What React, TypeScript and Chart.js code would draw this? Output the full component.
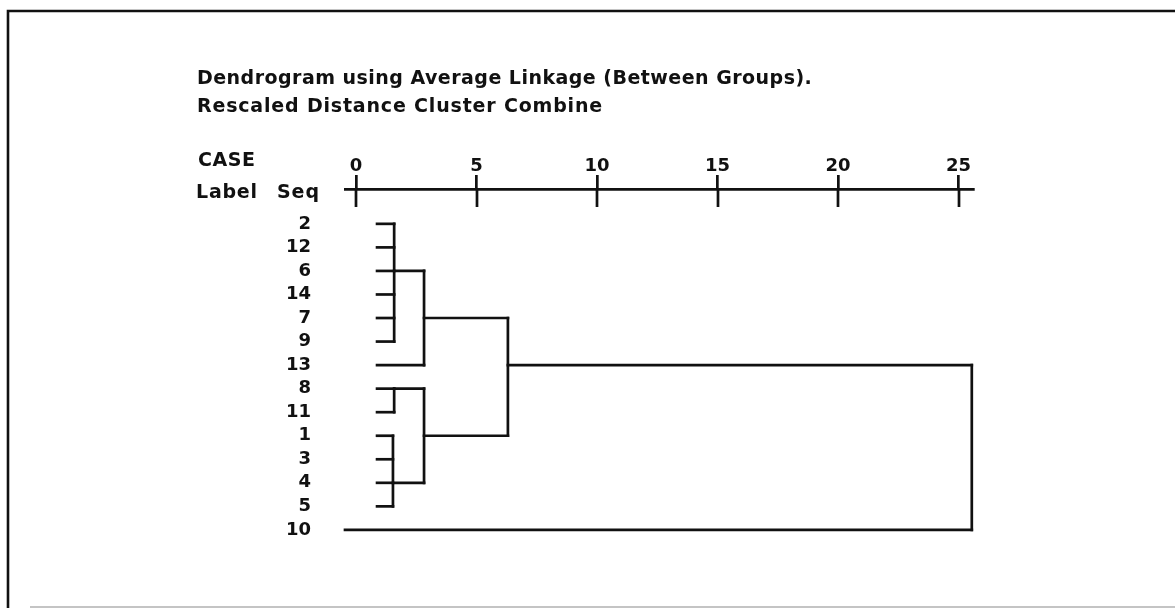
import React, { useEffect, useRef } from "react";
import { Chart, registerables } from "chart.js";

Chart.register(...registerables);

// ---------- data ----------
const caseLabels = ["2", "12", "6", "14", "7", "9", "13", "8", "11", "1", "3", "4", "5", "10"];
// rescaled distance where each leaf's line begins
const leafStarts = [0.87, 0.87, 0.87, 0.87, 0.87, 0.87, 0.87, 0.87, 0.87, 0.87, 0.87, 0.87, 0.87, -0.46];
// node ids: 0..13 = leaves (row order), 14.. = merges below, in order
const mergeChildren = [[0, 1, 2, 3, 4, 5], [7, 8], [9, 10, 11, 12], [14, 6], [15, 16], [17, 18], [19, 13]];
const mergeHeights = [1.58, 1.58, 1.53, 2.82, 2.82, 6.3, 25.55];
const mergeRows = [2, 7, 11, 4, 9, 6, 6];
const axisTicks = [0, 5, 10, 15, 20, 25];
const titleLines = ["Dendrogram using Average Linkage (Between Groups).", "Rescaled Distance Cluster Combine"];
const headerWords = ["CASE", "Label", "Seq"];

// ---------- layout / style ----------
const W = 1175;
const H = 608;
const INK = "#111111";
const LW = 2.7;
const FONT_FAMILY = '"DejaVu Sans", "Liberation Sans", sans-serif';
const textItems = [
  { text: titleLines[0], x: 197, base: 84, width: 615 },
  { text: titleLines[1], x: 197, base: 112, width: 405 },
  { text: headerWords[0], x: 198, base: 166, width: 57 },
  { text: headerWords[1], x: 196, base: 198, width: 61 },
  { text: headerWords[2], x: 277, base: 198, width: 42 },
];

const nLeaves = caseLabels.length;
const nodeRow = (id: number) => (id < nLeaves ? id : mergeRows[id - nLeaves]);
const nodeStart = (id: number) => (id < nLeaves ? leafStarts[id] : mergeHeights[id - nLeaves]);

function buildSegments() {
  const segs: { x: number; y: number }[][] = [];
  mergeChildren.forEach((children, m) => {
    const h = mergeHeights[m];
    children.forEach((c) => {
      segs.push([
        { x: nodeStart(c), y: nodeRow(c) },
        { x: h, y: nodeRow(c) },
      ]);
    });
    const rows = children.map(nodeRow);
    segs.push([
      { x: h, y: Math.min(...rows) },
      { x: h, y: Math.max(...rows) },
    ]);
  });
  return segs;
}

const decorPlugin = {
  id: "decor",
  beforeDraw(chart: any) {
    const ctx = chart.ctx;
    ctx.save();
    ctx.fillStyle = "#ffffff";
    ctx.fillRect(0, 0, chart.width, chart.height);
    // page frame
    ctx.strokeStyle = INK;
    ctx.lineWidth = 2.6;
    ctx.beginPath();
    ctx.moveTo(8, H);
    ctx.lineTo(8, 11);
    ctx.lineTo(W, 11);
    ctx.stroke();
    ctx.strokeStyle = "#c4c4c4";
    ctx.lineWidth = 2;
    ctx.beginPath();
    ctx.moveTo(30, 607);
    ctx.lineTo(W, 607);
    ctx.stroke();
    ctx.restore();
  },
  afterDraw(chart: any) {
    const ctx = chart.ctx;
    ctx.save();
    // texts
    ctx.fillStyle = INK;
    ctx.textAlign = "left";
    ctx.textBaseline = "alphabetic";
    ctx.font = `bold 19px ${FONT_FAMILY}`;
    textItems.forEach((t) => {
      (ctx as any).letterSpacing = "0px";
      const w0 = ctx.measureText(t.text).width;
      const sp = t.text.length > 1 ? (t.width - w0) / (t.text.length - 1) : 0;
      (ctx as any).letterSpacing = `${sp.toFixed(2)}px`;
      ctx.fillText(t.text, t.x, t.base);
    });
    (ctx as any).letterSpacing = "0px";
    // lower half of the axis tick marks
    const xs = chart.scales.x;
    const top = chart.chartArea.top;
    ctx.strokeStyle = INK;
    ctx.lineWidth = LW;
    ctx.lineCap = "butt";
    xs.ticks.forEach((t: any) => {
      const px = Math.round(xs.getPixelForValue(t.value));
      ctx.beginPath();
      ctx.moveTo(px, top);
      ctx.lineTo(px, top + 18);
      ctx.stroke();
    });
    ctx.restore();
  },
};

const noScalePadding = (s: any) => {
  s.paddingTop = 0;
  s.paddingBottom = 0;
  s.paddingLeft = 0;
  s.paddingRight = 0;
};

export default function App() {
  const ref = useRef<HTMLCanvasElement | null>(null);

  useEffect(() => {
    document.body.style.margin = "0";
    const canvas = ref.current;
    if (!canvas) return;
    const datasets = buildSegments().map((seg) => ({
      data: seg,
      borderColor: INK,
      borderWidth: LW,
      borderCapStyle: "square" as const,
      pointRadius: 0,
      pointHoverRadius: 0,
      tension: 0,
      fill: false,
      clip: false as any,
    }));
    const chart = new Chart(canvas, {
      type: "line",
      data: { datasets },
      plugins: [decorPlugin],
      options: {
        responsive: false,
        animation: false,
        events: [],
        layout: { padding: { left: 0, top: 0, right: 202, bottom: 31 } },
        plugins: {
          legend: { display: false },
          tooltip: { enabled: false },
          title: { display: false },
        },
        scales: {
          x: {
            type: "linear",
            position: "top",
            min: -0.46,
            max: 25.6,
            afterBuildTicks: (s: any) => {
              s.ticks = axisTicks.map((v) => ({ value: v }));
            },
            afterFit: (s: any) => {
              s.height = 189;
              noScalePadding(s);
            },
            grid: {
              display: true,
              drawOnChartArea: false,
              drawTicks: true,
              tickLength: 14,
              lineWidth: LW,
              color: INK,
            },
            border: { display: true, color: INK, width: LW },
            ticks: {
              autoSkip: false,
              maxRotation: 0,
              padding: -2,
              color: INK,
              font: { family: FONT_FAMILY, weight: "bold", size: 18 },
              callback: (v: any) => String(v),
            },
          },
          y: {
            type: "linear",
            reverse: true,
            min: -1.48,
            max: 15,
            afterBuildTicks: (s: any) => {
              s.ticks = caseLabels.map((_, i) => ({ value: i }));
            },
            afterFit: (s: any) => {
              s.width = 345;
              noScalePadding(s);
            },
            grid: { display: false, drawTicks: false },
            border: { display: false },
            ticks: {
              autoSkip: false,
              padding: 34,
              color: INK,
              font: { family: FONT_FAMILY, weight: "bold", size: 18 },
              callback: (v: any) => caseLabels[Math.round(Number(v))] ?? "",
            },
          },
        },
      },
    });
    return () => chart.destroy();
  }, []);

  return (
    <div style={{ position: "fixed", left: 0, top: 0, width: W, height: H, background: "#fff" }}>
      <canvas ref={ref} width={W} height={H} style={{ width: W, height: H, display: "block" }} />
    </div>
  );
}
